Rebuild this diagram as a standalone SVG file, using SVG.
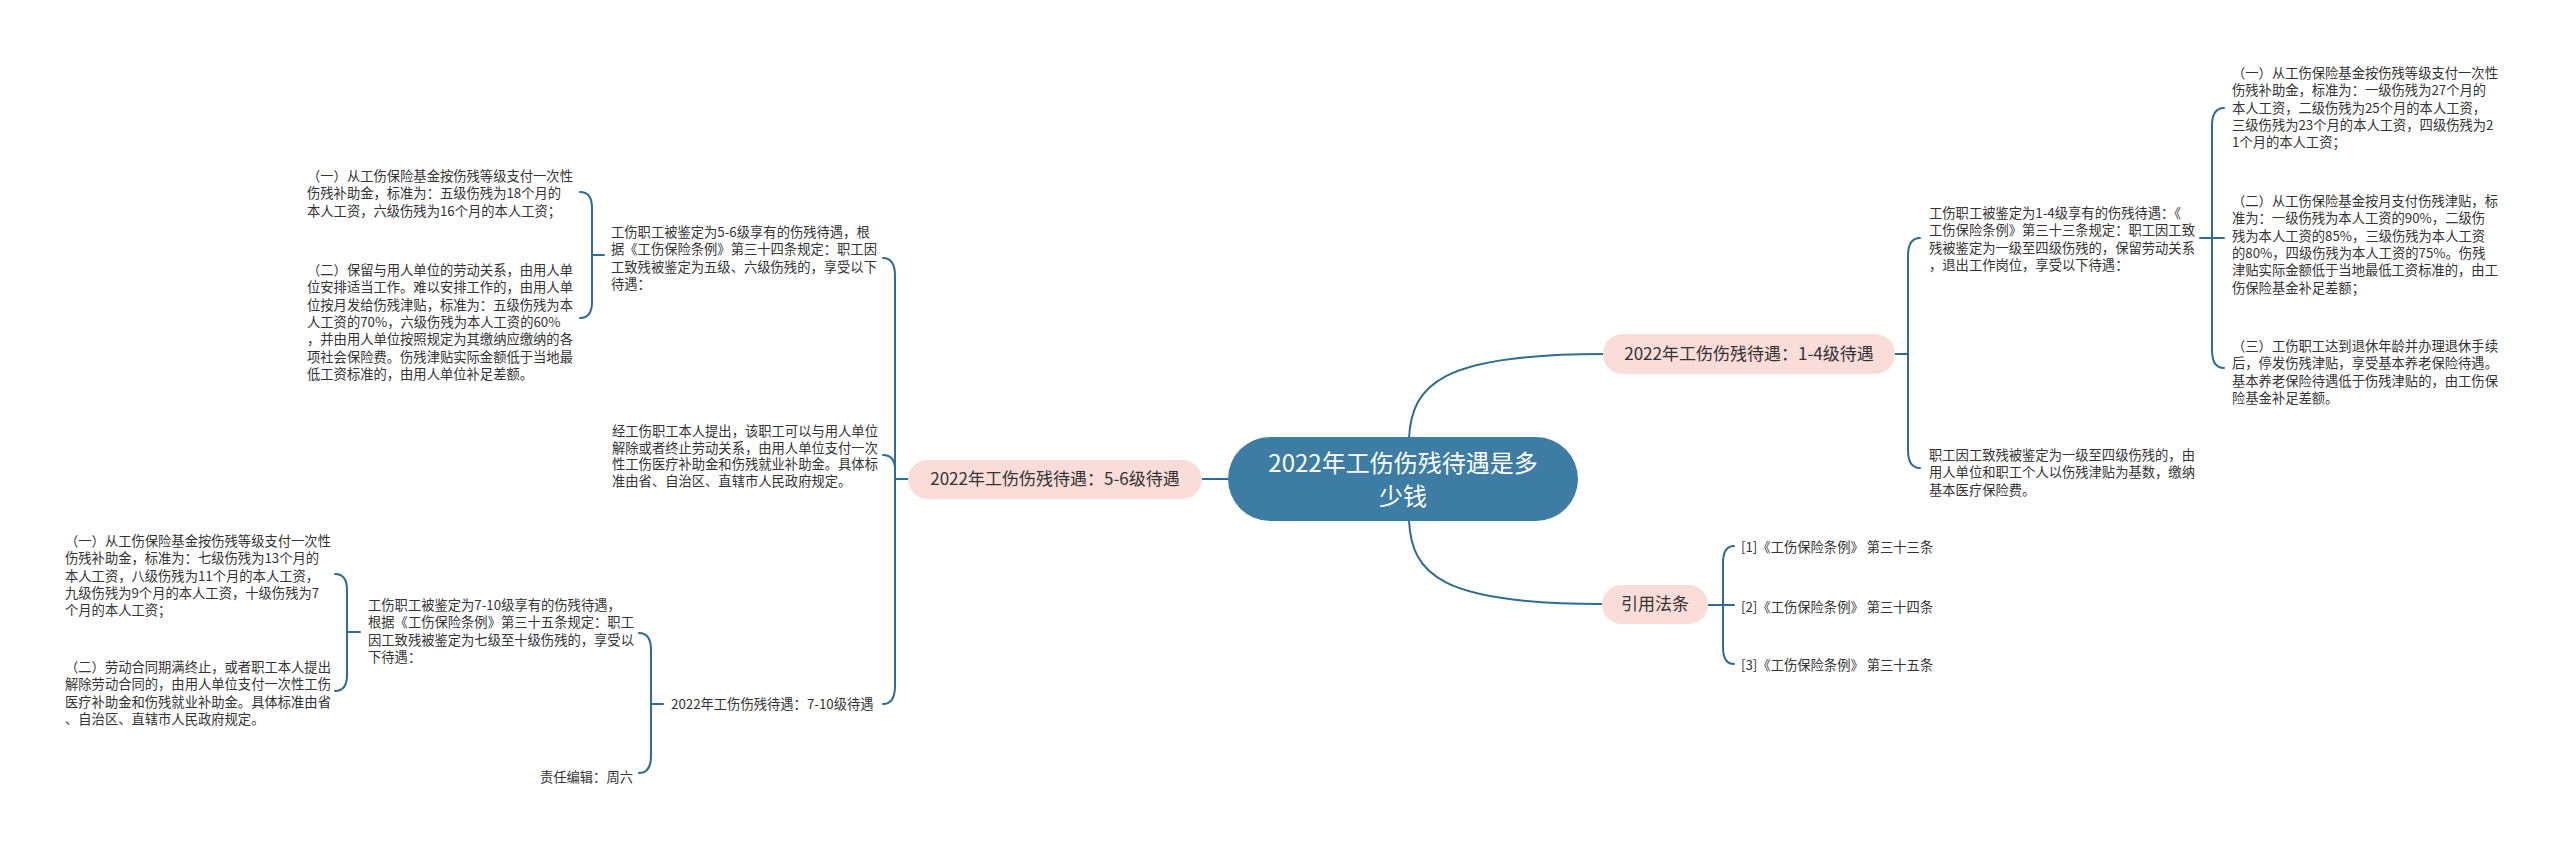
<svg xmlns="http://www.w3.org/2000/svg" width="2560" height="848" viewBox="0 0 2560 848">
<style>
.t{font-family:"Noto Sans CJK SC","Microsoft YaHei",sans-serif;font-size:13.3px;fill:#333}
.p{font-family:"Noto Sans CJK SC","Microsoft YaHei",sans-serif;font-size:17px;fill:#333;text-anchor:middle}
.c{font-family:"Noto Sans CJK SC","Microsoft YaHei",sans-serif;font-size:24px;fill:#fff;text-anchor:middle}
.pill{fill:#fadcd9}
.ln{fill:none;stroke:#2e6b95;stroke-width:2;stroke-linecap:round}
</style>
<rect width="2560" height="848" fill="#fff"/>
<g id="connectors">
  <path class="ln" d="M1409,438 C1412,385 1440,354 1603,354"/>
  <path class="ln" d="M1409,521 C1412,574 1440,604 1602,604"/>
  <path class="ln" d="M1228,479 H1202"/>
  <path class="ln" d="M1895,354 H1908"/>
  <path class="ln" d="M1920,238 Q1908,238 1908,256 V450 Q1908,468 1920,468"/>
  <path class="ln" d="M2200,238 H2224"/>
  <path class="ln" d="M2224,108 Q2212,108 2212,126 V350 Q2212,368 2224,368"/>
  <path class="ln" d="M908,479 H895"/>
  <path class="ln" d="M883,258 Q895,258 895,276 V686 Q895,704 883,704"/>
  <path class="ln" d="M895,470 Q895,455 883,455"/>
  <path class="ln" d="M604,255 H592"/>
  <path class="ln" d="M580,192 Q592,192 592,208 V302 Q592,318 580,318"/>
  <path class="ln" d="M663,704 H651"/>
  <path class="ln" d="M639,633 Q651,633 651,650 V756 Q651,773 639,773"/>
  <path class="ln" d="M360,632 H347"/>
  <path class="ln" d="M335,574 Q347,574 347,590 V675 Q347,691 335,691"/>
  <path class="ln" d="M1708,605 H1734"/>
  <path class="ln" d="M1734,546 Q1723,546 1723,563 V647 Q1723,664 1734,664"/>
</g>
<g id="center">
  <rect x="1228" y="437" width="350" height="84" rx="42" fill="#3e7da3"/>
  <text class="c" x="1403" y="472">2022年工伤伤残待遇是多</text>
  <text class="c" x="1403" y="505">少钱</text>
</g>
<g id="b14">
  <rect class="pill" x="1603" y="334" width="292" height="40" rx="20"/>
  <text class="p" x="1749" y="360">2022年工伤伤残待遇：1-4级待遇</text>
</g>
<g id="b56">
  <rect class="pill" x="908" y="460" width="294" height="39" rx="19.5"/>
  <text class="p" x="1055" y="485">2022年工伤伤残待遇：5-6级待遇</text>
</g>
<g id="bref">
  <rect class="pill" x="1602" y="585" width="106" height="39" rx="19.5"/>
  <text class="p" x="1655" y="610">引用法条</text>
</g>
<g id="r14a">
  <text class="t" x="1929" y="218"><tspan x="1929">工伤职工被鉴定为1-4级享有的伤残待遇：《</tspan><tspan x="1929" dy="17.3">工伤保险条例》第三十三条规定：职工因工致</tspan><tspan x="1929" dy="17.3">残被鉴定为一级至四级伤残的，保留劳动关系</tspan><tspan x="1929" dy="17.3">，退出工作岗位，享受以下待遇：</tspan></text>
</g>
<g id="r14b">
  <text class="t" x="1929" y="460"><tspan x="1929">职工因工致残被鉴定为一级至四级伤残的，由</tspan><tspan x="1929" dy="17.3">用人单位和职工个人以伤残津贴为基数，缴纳</tspan><tspan x="1929" dy="17.3">基本医疗保险费。</tspan></text>
</g>
<g id="r14a1">
  <text class="t" x="2232" y="78"><tspan x="2232">（一）从工伤保险基金按伤残等级支付一次性</tspan><tspan x="2232" dy="17.3">伤残补助金，标准为：一级伤残为27个月的</tspan><tspan x="2232" dy="17.3">本人工资，二级伤残为25个月的本人工资，</tspan><tspan x="2232" dy="17.3">三级伤残为23个月的本人工资，四级伤残为2</tspan><tspan x="2232" dy="17.3">1个月的本人工资；</tspan></text>
</g>
<g id="r14a2">
  <text class="t" x="2232" y="206"><tspan x="2232">（二）从工伤保险基金按月支付伤残津贴，标</tspan><tspan x="2232" dy="17.3">准为：一级伤残为本人工资的90%，二级伤</tspan><tspan x="2232" dy="17.3">残为本人工资的85%，三级伤残为本人工资</tspan><tspan x="2232" dy="17.3">的80%，四级伤残为本人工资的75%。伤残</tspan><tspan x="2232" dy="17.3">津贴实际金额低于当地最低工资标准的，由工</tspan><tspan x="2232" dy="17.3">伤保险基金补足差额；</tspan></text>
</g>
<g id="r14a3">
  <text class="t" x="2232" y="351"><tspan x="2232">（三）工伤职工达到退休年龄并办理退休手续</tspan><tspan x="2232" dy="17.3">后，停发伤残津贴，享受基本养老保险待遇。</tspan><tspan x="2232" dy="17.3">基本养老保险待遇低于伤残津贴的，由工伤保</tspan><tspan x="2232" dy="17.3">险基金补足差额。</tspan></text>
</g>
<g id="ref1"><text class="t" x="1741" y="552">[1]《工伤保险条例》 第三十三条</text></g>
<g id="ref2"><text class="t" x="1741" y="612">[2]《工伤保险条例》 第三十四条</text></g>
<g id="ref3"><text class="t" x="1741" y="670">[3]《工伤保险条例》 第三十五条</text></g>
<g id="l56a">
  <text class="t" x="611" y="237"><tspan x="611">工伤职工被鉴定为5-6级享有的伤残待遇，根</tspan><tspan x="611" dy="17.3">据《工伤保险条例》第三十四条规定：职工因</tspan><tspan x="611" dy="17.3">工致残被鉴定为五级、六级伤残的，享受以下</tspan><tspan x="611" dy="17.3">待遇：</tspan></text>
</g>
<g id="l56a1">
  <text class="t" x="307" y="181"><tspan x="307">（一）从工伤保险基金按伤残等级支付一次性</tspan><tspan x="307" dy="17.3">伤残补助金，标准为：五级伤残为18个月的</tspan><tspan x="307" dy="17.3">本人工资，六级伤残为16个月的本人工资；</tspan></text>
</g>
<g id="l56a2">
  <text class="t" x="307" y="275"><tspan x="307">（二）保留与用人单位的劳动关系，由用人单</tspan><tspan x="307" dy="17.3">位安排适当工作。难以安排工作的，由用人单</tspan><tspan x="307" dy="17.3">位按月发给伤残津贴，标准为：五级伤残为本</tspan><tspan x="307" dy="17.3">人工资的70%，六级伤残为本人工资的60%</tspan><tspan x="307" dy="17.3">，并由用人单位按照规定为其缴纳应缴纳的各</tspan><tspan x="307" dy="17.3">项社会保险费。伤残津贴实际金额低于当地最</tspan><tspan x="307" dy="17.3">低工资标准的，由用人单位补足差额。</tspan></text>
</g>
<g id="l56b">
  <text class="t" x="612" y="436"><tspan x="612">经工伤职工本人提出，该职工可以与用人单位</tspan><tspan x="612" dy="16.7">解除或者终止劳动关系，由用人单位支付一次</tspan><tspan x="612" dy="16.7">性工伤医疗补助金和伤残就业补助金。具体标</tspan><tspan x="612" dy="16.7">准由省、自治区、直辖市人民政府规定。</tspan></text>
</g>
<g id="l710">
  <text class="t" x="671" y="709">2022年工伤伤残待遇：7-10级待遇</text>
</g>
<g id="l710a">
  <text class="t" x="368" y="610"><tspan x="368">工伤职工被鉴定为7-10级享有的伤残待遇，</tspan><tspan x="368" dy="17.3">根据《工伤保险条例》第三十五条规定：职工</tspan><tspan x="368" dy="17.3">因工致残被鉴定为七级至十级伤残的，享受以</tspan><tspan x="368" dy="17.3">下待遇：</tspan></text>
</g>
<g id="l710a1">
  <text class="t" x="65" y="546"><tspan x="65">（一）从工伤保险基金按伤残等级支付一次性</tspan><tspan x="65" dy="17.3">伤残补助金，标准为：七级伤残为13个月的</tspan><tspan x="65" dy="17.3">本人工资，八级伤残为11个月的本人工资，</tspan><tspan x="65" dy="17.3">九级伤残为9个月的本人工资，十级伤残为7</tspan><tspan x="65" dy="17.3">个月的本人工资；</tspan></text>
</g>
<g id="l710a2">
  <text class="t" x="65" y="672"><tspan x="65">（二）劳动合同期满终止，或者职工本人提出</tspan><tspan x="65" dy="17.3">解除劳动合同的，由用人单位支付一次性工伤</tspan><tspan x="65" dy="17.3">医疗补助金和伤残就业补助金。具体标准由省</tspan><tspan x="65" dy="17.3">、自治区、直辖市人民政府规定。</tspan></text>
</g>
<g id="l710b">
  <text class="t" x="633" y="782" text-anchor="end">责任编辑：周六</text>
</g>
</svg>
